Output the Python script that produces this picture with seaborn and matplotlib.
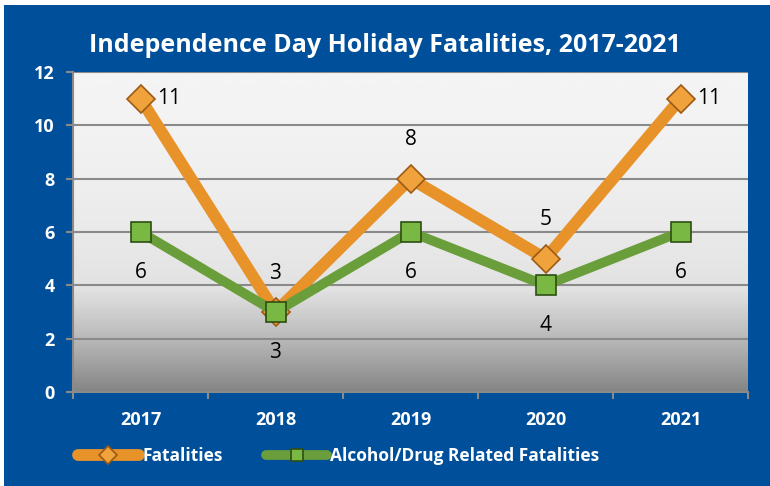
import numpy as np
import pandas as pd
import matplotlib.pyplot as plt
import seaborn as sns

years = ['2017', '2018', '2019', '2020', '2021']
fatalities = [11, 3, 8, 5, 11]
alcohol_drug = [6, 3, 6, 4, 6]

series_names = ['Fatalities', 'Alcohol/Drug Related Fatalities']

df = pd.DataFrame({
    'year': years * 2,
    'x': list(range(len(years))) * 2,
    'value': fatalities + alcohol_drug,
    'series': [series_names[0]] * len(years) + [series_names[1]] * len(years),
})

sns.set_theme(style='white')
plt.rcParams['font.family'] = ['Open Sans', 'DejaVu Sans']

blue = '#004F9B'
orange = '#E8922A'
green = '#6A9E3A'

fig = plt.figure(figsize=(7.7, 4.86), dpi=100)
# white strip on top/left, blue panel behind everything
fig.patches.append(plt.Rectangle((4 / 770, 0), 1, 1 - 5 / 486, transform=fig.transFigure,
                                 facecolor=blue, edgecolor='none', zorder=-10))
ax = fig.add_axes([73 / 770, 1 - 392 / 486, 675 / 770, 320 / 486])

# gradient plot background
grad = np.linspace(0, 1, 256) ** 1.8
ax.imshow(grad[:, None], aspect='auto', cmap=plt.matplotlib.colors.LinearSegmentedColormap.from_list(
    'g', ['#f4f4f4', '#e2e2e2', '#858585']), extent=(0, 1, 0, 1), transform=ax.transAxes,
    zorder=0, vmin=0, vmax=1)

sns.lineplot(data=df[df.series == series_names[0]], x='x', y='value', ax=ax, color=orange,
             lw=8.5, marker='D', markersize=14, markerfacecolor='#F0A23C', markeredgecolor='#9C5A14',
             markeredgewidth=1.2, legend=False, zorder=3, label=series_names[0])
sns.lineplot(data=df[df.series == series_names[1]], x='x', y='value', ax=ax, color=green,
             lw=7, marker='s', markersize=15, markerfacecolor='#78B843', markeredgecolor='#2E4E14',
             markeredgewidth=1.2, legend=False, zorder=4, label=series_names[1])

# data labels (offsets in points, as placed in the original)
fat_offsets = [(12, 0), (0, 28), (0, 28), (0, 28), (12, 0)]
for i, v in enumerate(fatalities):
    dx, dy = fat_offsets[i]
    ax.annotate(str(v), (i, v), xytext=(dx, dy), textcoords='offset points',
                ha='left' if dx else 'center', va='center', fontsize=15, color='black', zorder=6)
for i, v in enumerate(alcohol_drug):
    ax.annotate(str(v), (i, v), xytext=(0, -29), textcoords='offset points',
                ha='center', va='center', fontsize=15, color='black', zorder=6)

ax.set_xlim(-0.5, len(years) - 0.5)
ax.set_ylim(0, 12)
ax.set_yticks(range(0, 13, 2))
ax.set_xticks(range(len(years)))
ax.set_xticklabels(years)
ax.set_xticks(np.arange(-0.5, len(years), 1), minor=True)
ax.tick_params(axis='x', which='major', length=0, pad=14, labelsize=13, labelcolor='white')
ax.tick_params(axis='x', which='minor', length=5, color='#8a8a8a', width=1.5, direction='out')
ax.tick_params(axis='y', length=5, color='#8a8a8a', width=1.5, direction='out', pad=8,
               labelsize=13, labelcolor='white')
ax.tick_params(bottom=True, left=True, which='both')
for lab in ax.get_xticklabels() + ax.get_yticklabels():
    lab.set_fontweight('bold')

ax.yaxis.grid(True, color='#8a8a8a', lw=1.5, zorder=1)
ax.set_axisbelow(True)
for side in ['top', 'right']:
    ax.spines[side].set_visible(False)
for side in ['left', 'bottom']:
    ax.spines[side].set_color('#8a8a8a')
    ax.spines[side].set_linewidth(1.5)
ax.set_xlabel('')
ax.set_ylabel('')

fig.text(0.5, 1 - 45 / 486, 'Independence Day Holiday Fatalities, 2017-2021', ha='center', va='center',
         color='white', fontsize=18, fontweight='bold')

handles, labels = ax.get_legend_handles_labels()
leg = fig.legend(handles, labels, loc='center', bbox_to_anchor=(0.44, 1 - 456 / 486), ncol=2,
                 frameon=False, handlelength=3.5, handletextpad=0.2, columnspacing=2.5,
                 prop={'weight': 'bold', 'size': 12.5})
for t in leg.get_texts():
    t.set_color('white')
for h in leg.legend_handles:
    h.set_markersize(9)

fig.savefig('out.png', dpi=100, facecolor='white')
